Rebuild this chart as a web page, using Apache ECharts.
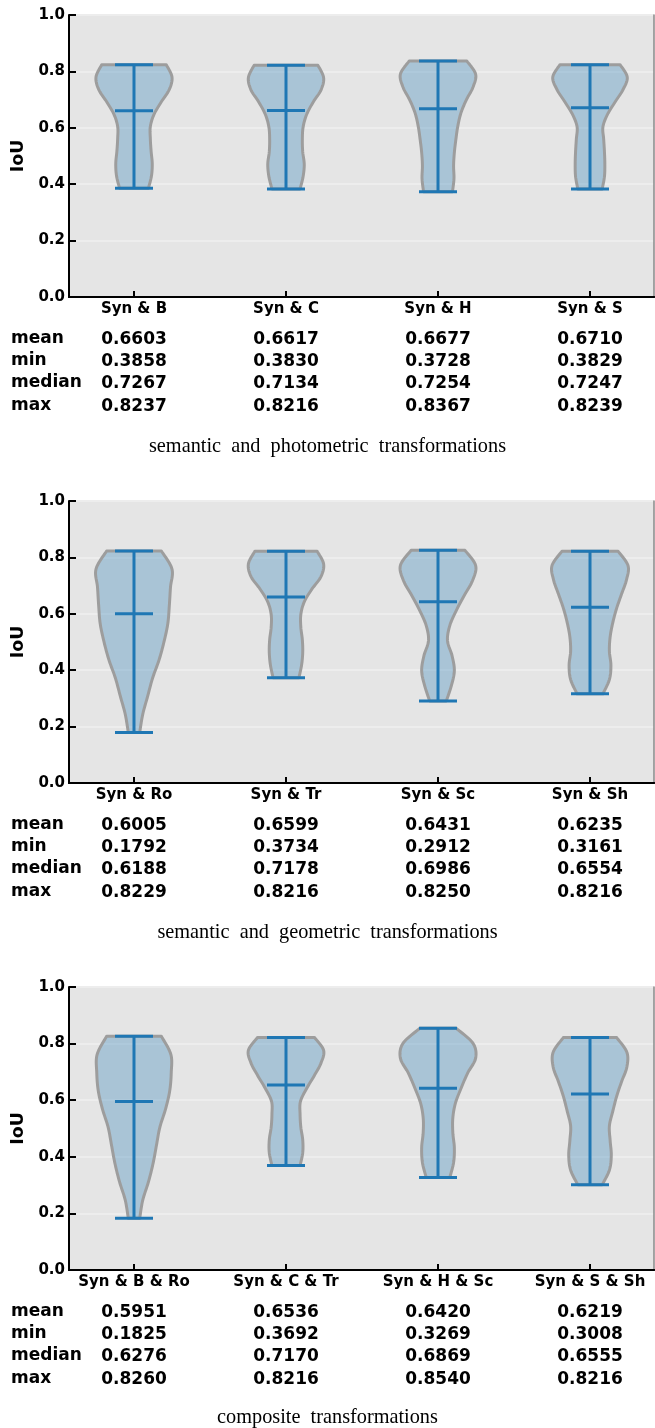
<!DOCTYPE html>
<html>
<head>
<meta charset="utf-8">
<script src="https://cdn.jsdelivr.net/npm/echarts@6/dist/echarts.min.js"></script>
<style>
html,body{margin:0;padding:0;background:#fff;}
#chart{width:655px;height:1428px;}
</style>
</head>
<body>
<div id="chart"></div>
<script>
// ---------- data ----------
const categories1 = ['Syn & B', 'Syn & C', 'Syn & H', 'Syn & S'];
const mean1   = [0.6603, 0.6617, 0.6677, 0.6710];
const min1    = [0.3858, 0.3830, 0.3728, 0.3829];
const median1 = [0.7267, 0.7134, 0.7254, 0.7247];
const max1    = [0.8237, 0.8216, 0.8367, 0.8239];
// relative violin half-widths, read at 11 evenly spaced levels from min (first) to max (last)
const widths1 = [
  [0.38, 0.46, 0.48, 0.45, 0.43, 0.43, 0.53, 0.72, 0.93, 1.00, 0.85],
  [0.37, 0.45, 0.48, 0.44, 0.43, 0.45, 0.54, 0.71, 0.92, 0.99, 0.84],
  [0.38, 0.42, 0.41, 0.43, 0.47, 0.52, 0.60, 0.74, 0.92, 0.99, 0.76],
  [0.32, 0.38, 0.39, 0.38, 0.36, 0.34, 0.46, 0.66, 0.87, 0.98, 0.79]
];

const categories2 = ['Syn & Ro', 'Syn & Tr', 'Syn & Sc', 'Syn & Sh'];
const mean2   = [0.6005, 0.6599, 0.6431, 0.6235];
const min2    = [0.1792, 0.3734, 0.2912, 0.3161];
const median2 = [0.6188, 0.7178, 0.6986, 0.6554];
const max2    = [0.8229, 0.8216, 0.8250, 0.8216];
const widths2 = [
  [0.15, 0.23, 0.36, 0.49, 0.66, 0.79, 0.89, 0.93, 0.96, 1.00, 0.72],
  [0.34, 0.41, 0.44, 0.43, 0.39, 0.39, 0.48, 0.68, 0.92, 0.99, 0.82],
  [0.22, 0.35, 0.43, 0.37, 0.25, 0.31, 0.48, 0.69, 0.91, 0.99, 0.71],
  [0.34, 0.51, 0.55, 0.51, 0.53, 0.60, 0.70, 0.83, 0.96, 1.00, 0.74]
];

const categories3 = ['Syn & B & Ro', 'Syn & C & Tr', 'Syn & H & Sc', 'Syn & S & Sh'];
const mean3   = [0.5951, 0.6536, 0.6420, 0.6219];
const min3    = [0.1825, 0.3692, 0.3269, 0.3008];
const median3 = [0.6276, 0.7170, 0.6869, 0.6555];
const max3    = [0.8260, 0.8216, 0.8540, 0.8216];
const widths3 = [
  [0.15, 0.23, 0.38, 0.50, 0.59, 0.68, 0.83, 0.94, 0.98, 0.97, 0.72],
  [0.37, 0.44, 0.44, 0.39, 0.37, 0.38, 0.54, 0.74, 0.92, 0.99, 0.75],
  [0.31, 0.41, 0.43, 0.39, 0.39, 0.46, 0.61, 0.78, 0.99, 0.92, 0.48],
  [0.32, 0.51, 0.56, 0.53, 0.51, 0.60, 0.70, 0.83, 0.97, 0.97, 0.70]
];

const rowNames = ['mean', 'min', 'median', 'max'];
const captions = [
  'semantic\u2002and\u2002photometric\u2002transformations',
  'semantic\u2002and\u2002geometric\u2002transformations',
  'composite\u2002transformations'
];

// ---------- layout / style ----------
const panels = [
  {top: 15,  height: 282, cats: categories1, mean: mean1, min: min1, median: median1, max: max1, widths: widths1, capOff: 150},
  {top: 501, height: 282, cats: categories2, mean: mean2, min: min2, median: median2, max: max2, widths: widths2, capOff: 150},
  {top: 987, height: 283, cats: categories3, mean: mean3, min: min3, median: median3, max: max3, widths: widths3, capOff: 148}
];
const ROW_OFFSETS = [43, 65, 87, 110];
const GRID_LEFT = 69, GRID_RIGHT = 1;
const XMIN = 0.5724, XMAX = 4.421;
const BLUE = '#1f77b4';
const FONT = 'DejaVu Sans';

function catmull(pts, steps) {
  const out = [];
  const n = pts.length;
  for (let i = 0; i < n - 1; i++) {
    const p0 = pts[Math.max(0, i - 1)], p1 = pts[i], p2 = pts[i + 1], p3 = pts[Math.min(n - 1, i + 2)];
    for (let s = 0; s < steps; s++) {
      const t = s / steps, t2 = t * t, t3 = t2 * t;
      const f = k => 0.5 * ((2 * p1[k]) + (-p0[k] + p2[k]) * t + (2 * p0[k] - 5 * p1[k] + 4 * p2[k] - p3[k]) * t2 + (-p0[k] + 3 * p1[k] - 3 * p2[k] + p3[k]) * t3);
      out.push([f(0), f(1)]);
    }
  }
  out.push(pts[n - 1].slice());
  return out;
}

const grids = [], xAxes = [], yAxes = [], series = [], graphics = [];

panels.forEach((p, gi) => {
  grids.push({left: GRID_LEFT, right: GRID_RIGHT, top: p.top, height: p.height,
    show: true, backgroundColor: '#e5e5e5', borderWidth: 0, containLabel: false});
  const cats = p.cats;
  xAxes.push({gridIndex: gi, type: 'value', min: XMIN, max: XMAX, position: 'bottom',
    axisLine: {show: true, lineStyle: {color: '#000', width: 2}},
    axisTick: {show: true, inside: true, length: 6, lineStyle: {color: '#000', width: 2}, customValues: [1, 2, 3, 4]},
    axisLabel: {show: true, margin: 5, customValues: [1, 2, 3, 4], formatter: v => cats[Math.round(v) - 1] || '',
      fontFamily: FONT, fontWeight: 'bold', fontSize: 15, color: '#000'},
    splitLine: {show: false}});
  xAxes.push({gridIndex: gi, type: 'value', min: XMIN, max: XMAX, position: 'top',
    axisLine: {show: true, lineStyle: {color: '#000', width: 2}},
    axisTick: {show: false}, axisLabel: {show: false}, splitLine: {show: false}});
  yAxes.push({gridIndex: gi, type: 'value', min: 0, max: 1, interval: 0.2, position: 'left',
    name: 'IoU', nameLocation: 'middle', nameGap: 42, nameRotate: 90,
    nameTextStyle: {fontFamily: FONT, fontWeight: 'bold', fontSize: 17.5, color: '#000'},
    axisLine: {show: true, lineStyle: {color: '#000', width: 2}},
    axisTick: {show: true, inside: true, length: 7, lineStyle: {color: '#000', width: 2}},
    axisLabel: {show: true, margin: 4, formatter: v => v.toFixed(1),
      fontFamily: FONT, fontWeight: 'bold', fontSize: 15, color: '#000'},
    splitLine: {show: true, lineStyle: {color: '#ededed', width: 2}}});
  yAxes.push({gridIndex: gi, type: 'value', min: 0, max: 1, position: 'right',
    axisLine: {show: true, lineStyle: {color: '#888', width: 1.5}},
    axisTick: {show: false}, axisLabel: {show: false}, splitLine: {show: false}});

  const xi = gi * 2, yi = gi * 2;
  series.push({
    type: 'custom', xAxisIndex: xi, yAxisIndex: yi, clip: false,
    data: cats.map((c, i) => [i + 1, p.min[i], p.max[i], p.mean[i]]),
    renderItem: function (params, api) {
      const i = params.dataIndex;
      const pos = api.value(0), lo = api.value(1), hi = api.value(2), mu = api.value(3);
      const w = p.widths[i];
      const n = w.length;
      const left = [], right = [];
      for (let k = 0; k < n; k++) {
        const y = lo + (hi - lo) * k / (n - 1);
        const hw = w[k] * 0.25;
        left.push(api.coord([pos - hw, y]));
        right.push(api.coord([pos + hw, y]));
      }
      const L = catmull(left, 10), R = catmull(right, 10);
      const poly = L.concat(R.reverse());
      const cap = 0.125;
      const line = (x1, y1, x2, y2) => {
        const a = api.coord([x1, y1]), b = api.coord([x2, y2]);
        return {type: 'line', shape: {x1: a[0], y1: a[1], x2: b[0], y2: b[1]},
          style: {stroke: BLUE, lineWidth: 3}};
      };
      return {type: 'group', children: [
        {type: 'polygon', shape: {points: poly},
          style: {fill: 'rgba(31,119,180,0.3)', stroke: '#9d9d9d', lineWidth: 3, lineJoin: 'round'}},
        line(pos, lo, pos, hi),
        line(pos - cap, lo, pos + cap, lo),
        line(pos - cap, hi, pos + cap, hi),
        line(pos - cap, mu, pos + cap, mu)
      ]};
    }
  });
  const rows = [p.mean, p.min, p.median, p.max];
  const tdata = [];
  rows.forEach((arr, r) => arr.forEach((v, c) => tdata.push([c + 1, r, v])));
  series.push({
    type: 'custom', xAxisIndex: xi, yAxisIndex: yi, clip: false, silent: true,
    data: tdata,
    renderItem: function (params, api) {
      const pt = api.coord([api.value(0), 0]);
      const r = api.value(1);
      return {type: 'text', x: pt[0], y: pt[1] + ROW_OFFSETS[r],
        style: {text: api.value(2).toFixed(4), fill: '#000', font: 'bold 17px "DejaVu Sans"',
          align: 'center', verticalAlign: 'middle'}};
    }
  });
  const bottom = p.top + p.height;
  rowNames.forEach((nm, r) => {
    graphics.push({type: 'text', left: 11, top: bottom + ROW_OFFSETS[r] - 10,
      style: {text: nm, fill: '#000', font: 'bold 17px "DejaVu Sans"'}});
  });
  graphics.push({type: 'text', left: 'center', top: bottom + p.capOff - 10,
    style: {text: captions[gi], fill: '#000', font: '20.3px "Liberation Serif"'}});
});

const chart = echarts.init(document.getElementById('chart'), null, {renderer: 'canvas'});
chart.setOption({
  animation: false,
  backgroundColor: '#ffffff',
  grid: grids,
  xAxis: xAxes,
  yAxis: yAxes,
  series: series,
  graphic: graphics
});
</script>
</body>
</html>
